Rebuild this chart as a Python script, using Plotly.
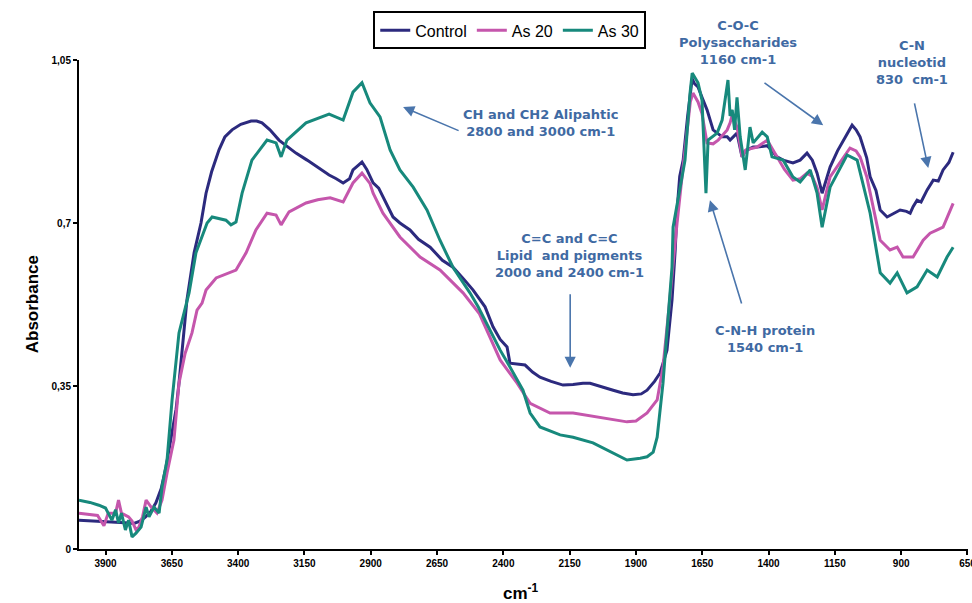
import plotly.graph_objects as go

# ---------------- data ----------------
control_wn = [4000, 3960, 3920, 3876, 3845, 3810, 3793, 3770, 3751, 3730, 3710, 3690, 3672, 3660, 3649,
              3634, 3623, 3612, 3600, 3593, 3566, 3540, 3521, 3500, 3472, 3450, 3423, 3390, 3351, 3330,
              3310, 3280, 3246, 3210, 3182, 3140, 3100, 3057, 3030, 3004, 2980, 2967, 2945, 2933, 2915,
              2891, 2870, 2854, 2830, 2816, 2790, 2752, 2720, 2676, 2630, 2590, 2550, 2514, 2469, 2439,
              2412, 2386, 2375, 2350, 2318, 2290, 2262, 2220, 2175, 2137, 2100, 2073, 2030, 1986, 1950,
              1911, 1880, 1858, 1830, 1809, 1783, 1764, 1752, 1745, 1735, 1722, 1705, 1688, 1680, 1666,
              1651, 1632, 1609, 1594, 1575, 1556, 1545, 1519, 1500, 1488, 1458, 1443, 1405, 1387, 1368,
              1345, 1308, 1281, 1255, 1235, 1217, 1198, 1185, 1168, 1140, 1123, 1100, 1085, 1070, 1055,
              1030, 1017, 995, 979, 953, 930, 904, 880, 866, 855, 840, 825, 802, 779, 760, 742, 720, 704]
control_abs = [0.062, 0.061, 0.060, 0.058, 0.058, 0.056, 0.055, 0.060, 0.068, 0.080, 0.099, 0.130, 0.176, 0.215, 0.249,
               0.300, 0.356, 0.420, 0.480, 0.535, 0.636, 0.700, 0.764, 0.810, 0.857, 0.885, 0.900, 0.912, 0.919, 0.919,
               0.915, 0.900, 0.878, 0.862, 0.850, 0.835, 0.820, 0.803, 0.795, 0.786, 0.795, 0.814, 0.825, 0.831, 0.815,
               0.786, 0.775, 0.756, 0.730, 0.713, 0.700, 0.685, 0.665, 0.648, 0.620, 0.605, 0.580, 0.556, 0.520, 0.477,
               0.450, 0.434, 0.399, 0.397, 0.395, 0.380, 0.369, 0.360, 0.352, 0.353, 0.356, 0.356, 0.348, 0.341, 0.335,
               0.331, 0.333, 0.341, 0.360, 0.378, 0.427, 0.535, 0.642, 0.727, 0.800, 0.835, 0.930, 1.010, 1.000, 0.992,
               0.970, 0.943, 0.900, 0.893, 0.885, 0.885, 0.878, 0.893, 0.842, 0.855, 0.863, 0.863, 0.866, 0.855, 0.842,
               0.835, 0.829, 0.835, 0.850, 0.835, 0.807, 0.764, 0.790, 0.820, 0.855, 0.872, 0.895, 0.910, 0.900, 0.885,
               0.840, 0.799, 0.770, 0.728, 0.713, 0.720, 0.728, 0.725, 0.721, 0.735, 0.749, 0.745, 0.771, 0.792, 0.790, 0.814, 0.830, 0.852]

as20_wn = [4000, 3970, 3959, 3930, 3906, 3890, 3862, 3851, 3840, 3813, 3800, 3785, 3774, 3760, 3747,
           3728, 3706, 3687, 3668, 3642, 3623, 3600, 3574, 3555, 3536, 3521, 3483, 3434, 3408, 3370,
           3333, 3291, 3257, 3238, 3208, 3144, 3100, 3053, 3004, 2967, 2933, 2903, 2891, 2854, 2790,
           2714, 2639, 2552, 2490, 2412, 2348, 2299, 2224, 2137, 2035, 1934, 1900, 1858, 1820, 1798,
           1779, 1764, 1745, 1730, 1710, 1695, 1685, 1666, 1651, 1632, 1609, 1590, 1571, 1556, 1545,
           1537, 1519, 1500, 1485, 1458, 1443, 1405, 1368, 1340, 1308, 1280, 1255, 1235, 1217, 1198,
           1168, 1130, 1093, 1070, 1055, 1030, 1006, 979, 942, 915, 893, 855, 817, 791, 764, 742, 704]
as20_abs = [0.077, 0.075, 0.074, 0.072, 0.050, 0.077, 0.077, 0.105, 0.077, 0.069, 0.060, 0.041, 0.047, 0.070, 0.105,
            0.090, 0.077, 0.105, 0.163, 0.234, 0.356, 0.420, 0.464, 0.513, 0.528, 0.556, 0.582, 0.593, 0.599, 0.636,
            0.685, 0.721, 0.717, 0.696, 0.724, 0.743, 0.750, 0.754, 0.745, 0.786, 0.807, 0.785, 0.764, 0.721, 0.670,
            0.627, 0.599, 0.550, 0.505, 0.406, 0.356, 0.313, 0.292, 0.292, 0.283, 0.273, 0.275, 0.292, 0.320, 0.391,
            0.498, 0.590, 0.700, 0.780, 0.880, 0.960, 0.979, 0.960, 0.935, 0.872, 0.870, 0.878, 0.890, 0.900, 0.915,
            0.932, 0.906, 0.842, 0.857, 0.860, 0.863, 0.878, 0.842, 0.815, 0.792, 0.795, 0.807, 0.800, 0.776, 0.728,
            0.799, 0.830, 0.861, 0.855, 0.842, 0.800, 0.734, 0.663, 0.642, 0.648, 0.627, 0.627, 0.663, 0.678, 0.685, 0.691, 0.742]

as30_wn = [4000, 3959, 3925, 3900, 3876, 3862, 3851, 3840, 3825, 3813, 3800, 3785, 3766, 3747, 3736,
           3717, 3698, 3687, 3668, 3649, 3623, 3585, 3559, 3517, 3498, 3446, 3427, 3408, 3385, 3348,
           3291, 3257, 3238, 3216, 3144, 3057, 3004, 2967, 2933, 2903, 2865, 2827, 2790, 2740, 2688,
           2639, 2590, 2526, 2495, 2412, 2375, 2326, 2299, 2262, 2186, 2137, 2062, 1986, 1934, 1884,
           1858, 1835, 1820, 1798, 1783, 1764, 1760, 1734, 1715, 1696, 1688, 1666, 1651, 1636, 1628,
           1594, 1575, 1564, 1553, 1545, 1537, 1528, 1519, 1507, 1488, 1470, 1458, 1424, 1405, 1387,
           1345, 1308, 1281, 1243, 1217, 1198, 1168, 1104, 1066, 1017, 979, 942, 915, 878, 840, 802, 764, 727, 704]
as30_abs = [0.105, 0.100, 0.094, 0.088, 0.062, 0.084, 0.056, 0.077, 0.041, 0.062, 0.026, 0.034, 0.047, 0.090, 0.069,
            0.090, 0.077, 0.133, 0.191, 0.320, 0.464, 0.550, 0.636, 0.700, 0.713, 0.706, 0.696, 0.702, 0.764, 0.835,
            0.878, 0.872, 0.842, 0.878, 0.915, 0.934, 0.921, 0.981, 1.001, 0.958, 0.928, 0.857, 0.814, 0.777, 0.728,
            0.663, 0.605, 0.550, 0.520, 0.427, 0.391, 0.341, 0.292, 0.262, 0.245, 0.240, 0.228, 0.206, 0.191, 0.195,
            0.198, 0.208, 0.240, 0.356, 0.464, 0.605, 0.691, 0.777, 0.835, 0.979, 1.022, 1.001, 0.964, 0.764, 0.878,
            0.893, 0.921, 0.964, 1.007, 0.930, 0.943, 0.900, 0.970, 0.885, 0.814, 0.906, 0.872, 0.895, 0.885, 0.842,
            0.835, 0.799, 0.788, 0.814, 0.764, 0.691, 0.777, 0.846, 0.835, 0.721, 0.593, 0.571, 0.593, 0.550, 0.563, 0.599, 0.584, 0.627, 0.648]

x_tickvals = [3900, 3650, 3400, 3150, 2900, 2650, 2400, 2150, 1900, 1650, 1400, 1150, 900, 650]
y_tickvals = [0, 0.35, 0.7, 1.05]
y_ticktext = ["0", "0,35", "0,7", "1,05"]

series_names = ["Control", "As 20", "As 30"]
series_colors = ["#2C2A7E", "#C556AC", "#17897C"]

# ---------------- figure ----------------
fig = go.Figure()
for name, color, xs, ys in zip(series_names, series_colors,
                               [control_wn, as20_wn, as30_wn],
                               [control_abs, as20_abs, as30_abs]):
    fig.add_trace(go.Scatter(x=xs, y=ys, mode="lines", name=name,
                             line=dict(color=color, width=3)))

ann_color = "#3F6AA3"
arrow_color = "#4A75AC"
font_ann = dict(family="DejaVu Sans, Verdana, sans-serif", size=13, color=ann_color)

# annotation texts in paper coordinates (plot area fractions)
texts = [
    ("<b>CH and CH2 Alipahtic<br>2800 and 3000 cm-1</b>", 0.519, 0.872),
    ("<b>C=C and C=C<br>Lipid  and pigments<br>2000 and 2400 cm-1</b>", 0.552, 0.601),
    ("<b>C-O-C<br>Polysaccharides<br>1160 cm-1</b>", 0.741, 1.035),
    ("<b>C-N<br>nucleotid<br>830  cm-1</b>", 0.937, 0.994),
    ("<b>C-N-H protein<br>1540 cm-1</b>", 0.772, 0.430),
]
for t, x, y in texts:
    fig.add_annotation(x=x, y=y, xref="paper", yref="paper", text=t, showarrow=False,
                       font=font_ann, align="center", xanchor="center", yanchor="middle")

arrows = [  # (head x, head y, tail x, tail y) in data units
    (2778, 0.949, 2563, 0.897),
    (2148, 0.389, 2148, 0.550),
    (1194, 0.910, 1421, 1.003),
    (798, 0.818, 851, 0.960),
    (1621, 0.749, 1500, 0.524),
]
for hx, hy, tx, ty in arrows:
    fig.add_annotation(x=hx, y=hy, ax=tx, ay=ty, xref="x", yref="y", axref="x", ayref="y",
                       text="", showarrow=True, arrowhead=2, arrowsize=1.4, arrowwidth=1.6,
                       arrowcolor=arrow_color)

# axis titles as annotations for exact placement
fig.add_annotation(x=-0.052, y=0.5, xref="paper", yref="paper", text="<b>Absorbance</b>",
                   textangle=-90, showarrow=False, xanchor="center", yanchor="middle",
                   font=dict(family="Liberation Sans, Arial", size=17, color="black"))
fig.add_annotation(x=0.497, y=-0.088, xref="paper", yref="paper", text="<b>cm<sup>-1</sup></b>",
                   showarrow=False, xanchor="center", yanchor="middle",
                   font=dict(family="Liberation Sans, Arial", size=17, color="black"))

tick_font = dict(family="Liberation Sans Narrow, Arial Narrow, Liberation Sans, Arial", size=10, color="black")

fig.update_layout(
    width=972, height=603,
    margin=dict(l=79, r=4, t=60, b=54, autoexpand=False),
    paper_bgcolor="white", plot_bgcolor="white",
    showlegend=True,
    legend=dict(orientation="h", xref="container", yref="container", x=0.384, y=0.981,
                xanchor="left", yanchor="top",
                bordercolor="black", borderwidth=2, bgcolor="white",
                font=dict(family="Liberation Sans, Arial, sans-serif", size=16, color="black"),
                itemwidth=30, tracegroupgap=0),
    xaxis=dict(range=[4000, 648], tickmode="array", tickvals=x_tickvals,
               ticktext=["<b>%d</b>" % v for v in x_tickvals], automargin=False,
               ticklabeloverflow="allow",
               showgrid=False, zeroline=False, showline=True, linecolor="black", linewidth=2,
               ticks="outside", ticklen=4, tickwidth=1.5, tickcolor="black", tickfont=tick_font),
    yaxis=dict(range=[0, 1.05], tickmode="array", tickvals=y_tickvals,
               ticktext=["<b>%s</b>" % s for s in y_ticktext], automargin=False,
               ticklabeloverflow="allow",
               showgrid=False, zeroline=False, showline=True, linecolor="black", linewidth=2,
               ticks="outside", ticklen=4, tickwidth=1.5, tickcolor="black", tickfont=tick_font),
)

fig.write_html("out.html", config={"displayModeBar": False},
               post_script="document.body.style.margin='0';document.body.style.overflow='hidden';")
